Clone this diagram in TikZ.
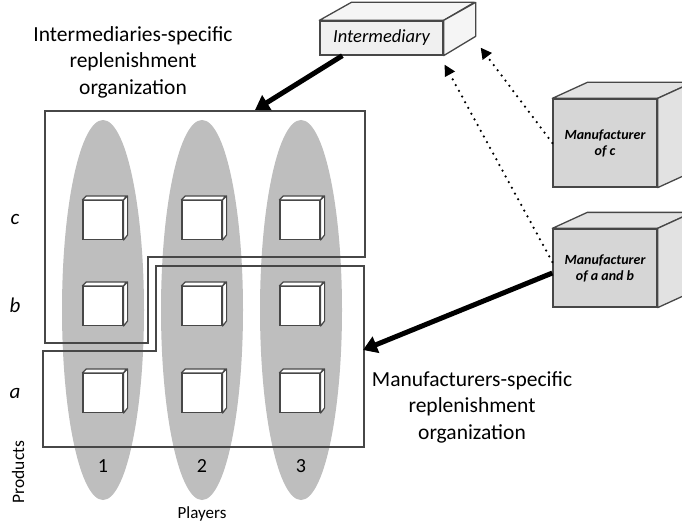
\documentclass[tikz,border=0pt]{standalone}
\usepackage{fontspec}
\setmainfont{Carlito}
\usetikzlibrary{shapes.geometric,arrows.meta}
\definecolor{edgegray}{HTML}{474747}
\definecolor{ellgray}{HTML}{BEBEBE}
\definecolor{intfill}{HTML}{F0F0F0}
\definecolor{intside}{HTML}{F5F5F5}
\definecolor{manfill}{HTML}{D6D6D6}
\definecolor{manside}{HTML}{E2E2E2}
\tikzset{
  orglab/.style={align=center,font=\fontsize{21.5}{26.5}\selectfont},
  cell/.style={draw=edgegray,line width=1.2pt,fill=white,minimum width=40pt,minimum height=39pt,inner sep=0pt},
  cellside/.style={draw=edgegray,line width=1.2pt,fill=white,line join=round},
  org/.style={draw=edgegray,line width=2pt},
  bigarrow/.style={line width=5pt,-{Triangle[length=14pt,width=17pt]}},
  dotarrow/.style={line width=2.5pt,line cap=round,dash pattern=on 0pt off 6.5pt,-{Triangle[length=11pt,width=11pt]}},
}
\begin{document}
\begin{tikzpicture}[x=1pt,y=-1pt]
\useasboundingbox (0,0) rectangle (682,524);
			% players
			\foreach \i/\x in {1/103,2/202,3/301}{
				\node[ellipse,fill=ellgray,minimum width=82pt,minimum height=380pt,inner sep=0pt](pl\i) at (\x,310){};
				\node[font=\fontsize{20}{22}\selectfont](n\i) at (\x,466){\i};
			}
			
			\draw[org](45,111)--(365,111)--(365,257)--(148,257)--(148,343)--(45,343)--cycle;
			\draw[org](156,266)--(364,266)--(364,447)--(43,447)--(43,351)--(156,351)--cycle;
			
			% products per player
			\foreach \i/\x in {1/103,2/202,3/300}{
				\foreach \r/\y in {c/220,b/306,a/393}{
					\node[cell](c\i\r) at (\x,\y){};
					\filldraw[cellside](c\i\r.north west)--++(4,-4)--++(40,0)--(c\i\r.north east)--cycle;
					\filldraw[cellside](c\i\r.north east)--++(4,-4)--++(0,39)--(c\i\r.south east)--cycle;
				}
			}
			
			\node[font=\itshape\fontsize{21}{22}\selectfont](rc) at (15,219){c};
			\node[font=\itshape\fontsize{21}{22}\selectfont](rb) at (15,305){b};
			\node[font=\itshape\fontsize{21}{22}\selectfont](ra) at (15,393){a};
			\node[rotate=90,font=\fontsize{17.5}{20}\selectfont](prod) at (18,472){Products};
			\node[font=\fontsize{17}{20}\selectfont](play) at (202,514){Players};
			
			\node[orglab](ilab) at (133,62){Intermediaries-specific\\replenishment\\organization};
			\node[orglab](mlab) at (472,407){Manufacturers-specific\\replenishment\\organization};
			
			% intermediary
			\node[draw=edgegray,fill=intfill,line width=1.3pt,minimum width=123pt,minimum height=34pt,inner sep=0pt,font=\itshape\fontsize{18.5}{20}\selectfont](inter) at (381.5,38){Intermediary};
			\filldraw[fill=intside,draw=edgegray,line width=1.3pt,line join=round](inter.north west)--++(32,-18)--++(123,0)--(inter.north east)--cycle;
			\filldraw[fill=intside,draw=edgegray,line width=1.3pt,line join=round](inter.north east)--++(32,-18)--++(0,34)--(inter.south east)--cycle;
			
			% manufacturers
			\node[draw=edgegray,fill=manfill,line width=1.3pt,minimum width=104pt,minimum height=88pt,inner sep=0pt,align=center,font=\bfseries\itshape\fontsize{14}{16}\selectfont](manc) at (605,143){Manufacturer\\of c};
			\node[draw=edgegray,fill=manfill,line width=1.3pt,minimum width=104pt,minimum height=78pt,inner sep=0pt,align=center,font=\bfseries\itshape\fontsize{14}{16}\selectfont](manab) at (605,268){Manufacturer\\of a and b};
			\foreach \m in {manc,manab}{
				\filldraw[fill=manside,draw=edgegray,line width=1.3pt,line join=round](\m.north west)--++(35,-16)--([shift={(35,-16)}]\m.north east)--(\m.north east)--cycle;
				\filldraw[fill=manside,draw=edgegray,line width=1.3pt,line join=round](\m.north east)--++(35,-16)--([shift={(35,-16)}]\m.south east)--(\m.south east)--cycle;
			}
			
			\coordinate(itip) at (255,110);
			\coordinate(mtip) at (363,350);
			\coordinate(ctip) at ([xshift=37pt,yshift=8pt]inter.south east);
			\coordinate(abtip) at ([xshift=1pt,yshift=-9pt]inter.south east);
			
			\draw[bigarrow]([xshift=23pt]inter.south west)--(itip);
			\draw[bigarrow]([yshift=-5pt]manab.west)--(mtip);
			\draw[dotarrow](manc.west)--(ctip);
			\draw[dotarrow]([yshift=6pt]manab.west)--(abtip);
		\end{tikzpicture}
\end{document}
